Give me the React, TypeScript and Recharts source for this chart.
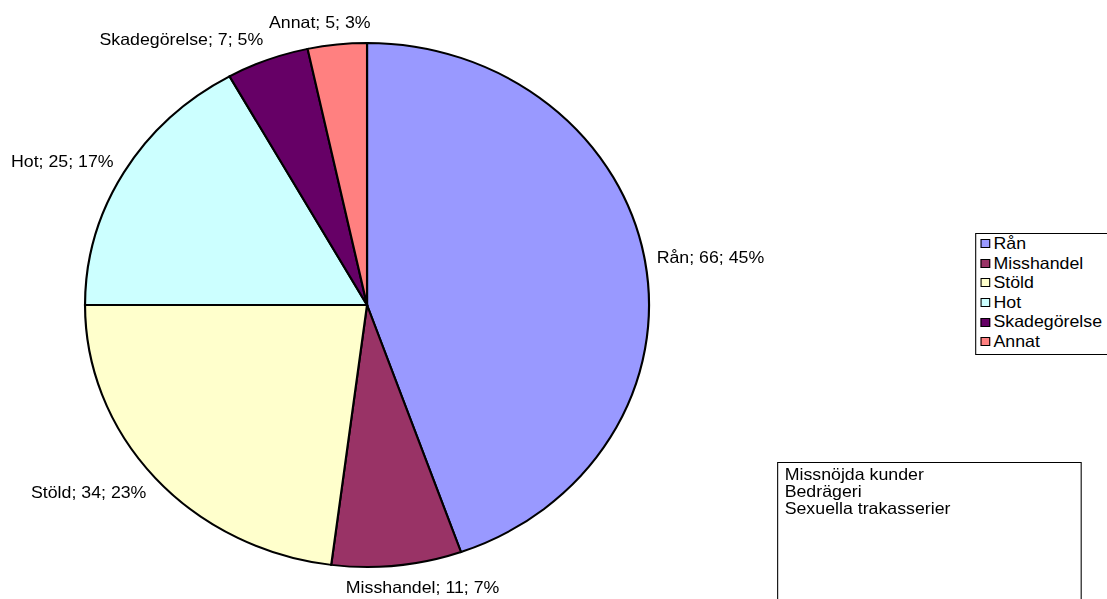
import React from 'react';
import { PieChart, Pie, Cell, Legend } from 'recharts';

// Brottstyper och antal
const categories = ['Rån', 'Misshandel', 'Stöld', 'Hot', 'Skadegörelse', 'Annat'];
const counts = [66, 11, 34, 25, 7, 5];
const colors = ['#9999FF', '#993366', '#FFFFCC', '#CCFFFF', '#660066', '#FF8080'];
const otherTypes = ['Missnöjda kunder', 'Bedrägeri', 'Sexuella trakasserier'];

const data = categories.map((name, i) => ({ name, value: counts[i] }));

const FONT = '"Liberation Sans", Arial, Helvetica, sans-serif';
const FONT_SIZE = 16.5;
// originalet är lite utdraget på bredden
const STRETCH = 282 / 262;

let ctx: CanvasRenderingContext2D | null = null;
const measure = (txt: string) => {
  if (!ctx) ctx = document.createElement('canvas').getContext('2d');
  if (!ctx) return txt.length * 8;
  ctx.font = `${FONT_SIZE}px ${FONT}`;
  return ctx.measureText(txt).width;
};

const RADIAN = Math.PI / 180;

const renderLabel = (props: any) => {
  const { cx, cy, midAngle, outerRadius, name, value, percent } = props;
  const txt = `${name}; ${value}; ${Math.round(percent * 100)}%`;
  const cos = Math.cos(midAngle * RADIAN);
  const sin = Math.sin(midAngle * RADIAN);
  const r = outerRadius + 11;
  const px = cx + r * cos;
  const py = cy - r * sin;
  const w = measure(txt);
  const k = Math.max(-1, Math.min(1, cos * 3));
  const x = px + (k * w) / 2;
  const y = py - sin * 11;
  return (
    <text x={x} y={y} textAnchor="middle" dominantBaseline="central" fill="#000" fontSize={FONT_SIZE} fontFamily={FONT}>
      {txt}
    </text>
  );
};

// legenden i samma ordning som datan (Recharts sorterar annars)
const renderLegend = () => (
  <div style={{ border: '1px solid #000', background: '#fff', width: 128, padding: '0 0 2px 4px', fontFamily: FONT, fontSize: FONT_SIZE }}>
    {categories.map((name, i) => (
      <div key={name} style={{ display: 'flex', alignItems: 'center', height: 19.6 }}>
        <span style={{ display: 'inline-block', width: 7, height: 7, border: '1px solid #000', background: colors[i], marginRight: 3 }} />
        <span style={{ lineHeight: '19.6px', whiteSpace: 'nowrap' }}>{name}</span>
      </div>
    ))}
  </div>
);

export default function App() {
  return (
    <div style={{ position: 'absolute', left: 0, top: 0, width: 1107, height: 599, overflow: 'hidden', background: '#fff' }}>
      <div style={{ position: 'relative', width: 1040, height: 599, transform: `scaleX(${STRETCH})`, transformOrigin: '0 0' }}>
        <PieChart width={1040} height={599} margin={{ top: 0, right: 0, bottom: 0, left: 0 }}>
          <Pie
            data={data}
            dataKey="value"
            nameKey="name"
            cx={341}
            cy={305}
            outerRadius={262}
            startAngle={90}
            endAngle={-270}
            stroke="#000"
            strokeWidth={2}
            label={renderLabel}
            labelLine={false}
            isAnimationActive={false}
          >
            {data.map((d, i) => (
              <Cell key={d.name} fill={colors[i]} />
            ))}
          </Pie>
          <Legend
            layout="vertical"
            content={renderLegend}
            wrapperStyle={{ position: 'absolute', left: 906, top: 233, width: 'auto' }}
          />
        </PieChart>
        <div
          style={{
            position: 'absolute',
            left: 722,
            top: 462,
            width: 283,
            height: 160,
            border: '1px solid #000',
            boxSizing: 'border-box',
            padding: '3px 0 0 6px',
            fontFamily: FONT,
            fontSize: FONT_SIZE,
            lineHeight: '17px',
          }}
        >
          {otherTypes.map((t) => (
            <div key={t}>{t}</div>
          ))}
        </div>
      </div>
    </div>
  );
}
